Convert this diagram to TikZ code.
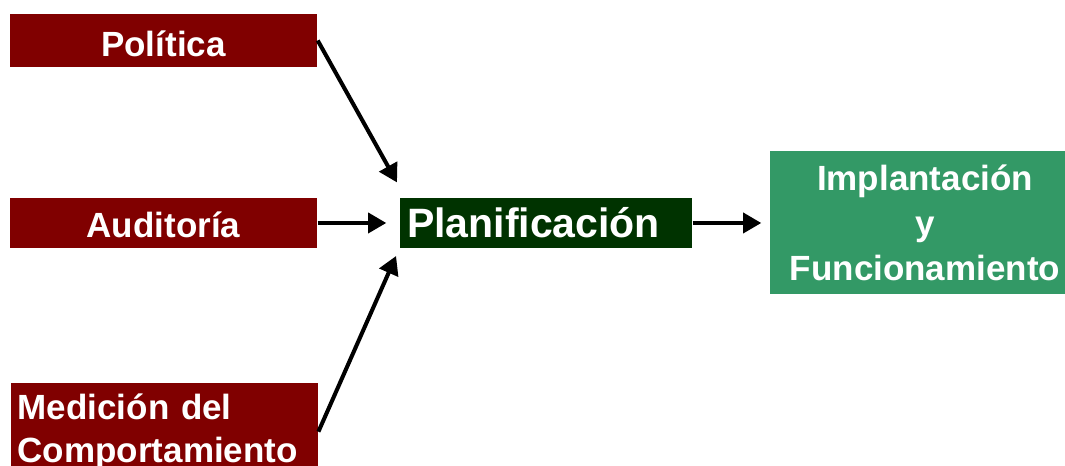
\documentclass[tikz,border=0pt]{standalone}
\usepackage{fontspec}
\setmainfont{Liberation Sans}
\usetikzlibrary{arrows.meta}
\definecolor{granate}{HTML}{800000}
\definecolor{verdeosc}{HTML}{003300}
\definecolor{verde}{HTML}{339966}
\begin{document}
\begin{tikzpicture}[caja/.style={fill=granate,text=white,inner sep=0pt,minimum width=3.07cm,font=\bfseries\fontsize{9.96pt}{12.2pt}\selectfont},
                    una/.style={text height=0.35cm,text depth=0.05cm},
                    flecha/.style={line width=1.15pt,-{Triangle[length=5.2pt,width=5.7pt]}}]
                    \useasboundingbox (0,0) rectangle (10.65,4.66);
                    \node[caja,una,minimum height=0.53cm,text height=0.365cm,text depth=0.035cm] (pol) at (1.635,4.255) {Política};
                    \node[caja,una,minimum height=0.50cm] (aud) at (1.635,2.43) {Auditoría};
                    \node[caja,anchor=north west,minimum height=0.98cm,text width=2.93cm,inner xsep=0.07cm,align=left] (med) at (0.10,0.84) {Medición del\\Comportamiento};
                    \node[caja,una,fill=verdeosc,minimum width=2.92cm,minimum height=0.50cm,text width=2.78cm,inner xsep=0.07cm,align=left,font=\bfseries\fontsize{11.67pt}{14pt}\selectfont] (plan) at (5.46,2.43) {Planificación};
                    \node[caja,fill=verde,minimum width=3.10cm,minimum height=1.43cm,align=center,font=\bfseries\fontsize{9.96pt}{12.8pt}\selectfont] (imp) at (9.25,2.43) {Implantación\\y\\Funcionamiento};
                    \draw[flecha,shorten >=0.17cm] (pol.east) -- ([xshift=0.06cm]plan.north west);
                    \draw[flecha,shorten >=0.13cm] (aud.east) -- (plan.west);
                    \draw[flecha,shorten >=0.08cm] (med.east) -- (plan.south west);
                    \draw[flecha,shorten >=0.08cm] (plan.east) -- (imp.west);
                  \end{tikzpicture}
\end{document}
